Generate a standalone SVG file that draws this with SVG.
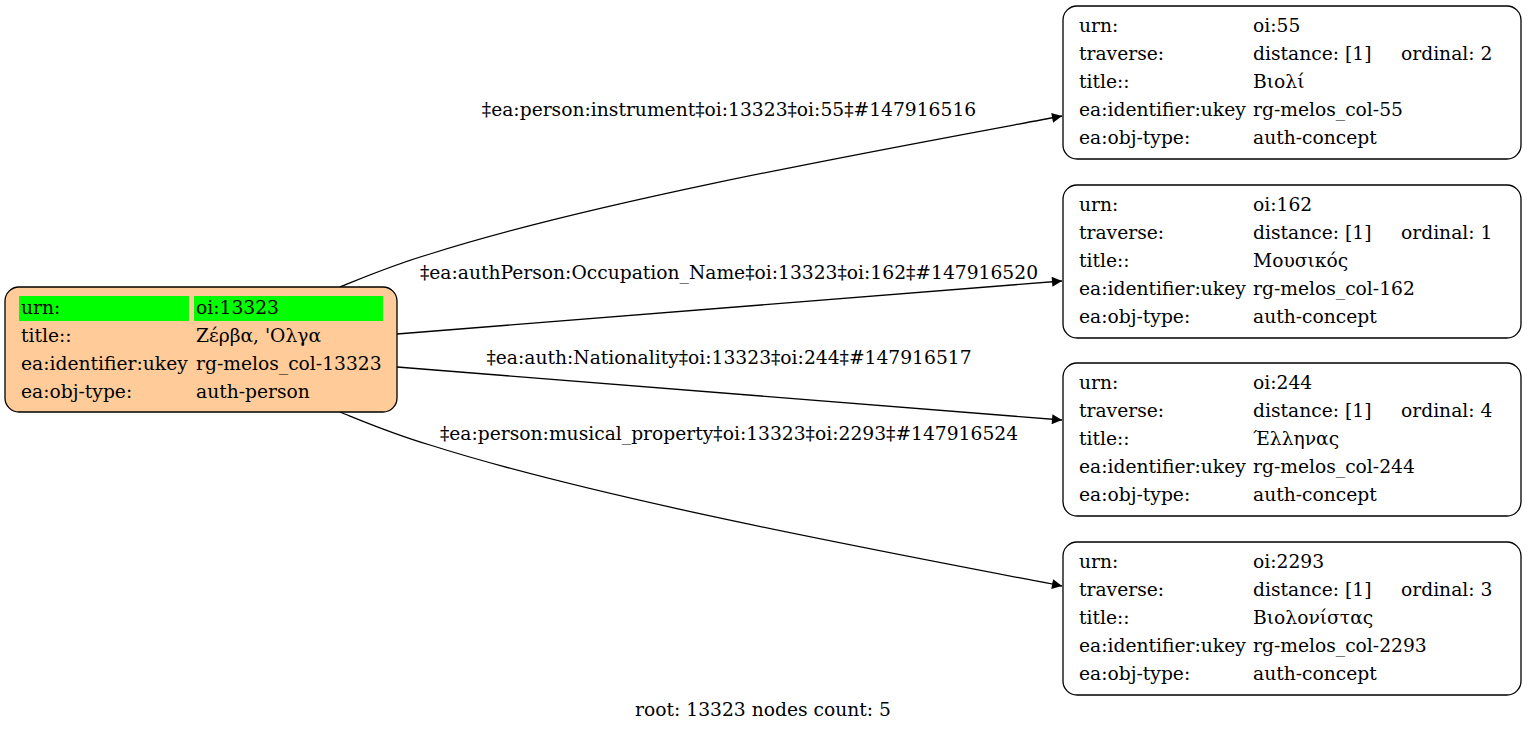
<svg xmlns="http://www.w3.org/2000/svg" width="1527" height="732" viewBox="0 0 1527 732">
<style>
text{font-family:"DejaVu Serif","Liberation Serif",serif;font-size:18.7px;fill:#000}
.c{text-anchor:middle}
.box{fill:#fff;stroke:#000;stroke-width:1.3}
.edge{fill:none;stroke:#000;stroke-width:1.3}
</style>
<defs>
<marker id="arr" viewBox="0 0 10 10" refX="10" refY="5" markerWidth="14" markerHeight="10" markerUnits="userSpaceOnUse" orient="auto">
<path d="M0,0 L10,5 L0,10 z" fill="#000"/>
</marker>
</defs>
<rect width="1527" height="732" fill="#fff"/>
<g id="edges">
<path class="edge" d="M340,287 C360,279 390,266 430,254 C600,200 880,150 1062,116" marker-end="url(#arr)"/>
<text class="c" x="729" y="116">‡ea:person:instrument‡oi:13323‡oi:55‡#147916516</text>
<path class="edge" d="M397,334 L1062,281" marker-end="url(#arr)"/>
<text class="c" x="729" y="279">‡ea:authPerson:Occupation_Name‡oi:13323‡oi:162‡#147916520</text>
<path class="edge" d="M397,367 L1062,420" marker-end="url(#arr)"/>
<text class="c" x="729" y="364">‡ea:auth:Nationality‡oi:13323‡oi:244‡#147916517</text>
<path class="edge" d="M340,412 C360,420 390,433 430,445 C600,499 880,551 1062,586" marker-end="url(#arr)"/>
<text class="c" x="729" y="440">‡ea:person:musical_property‡oi:13323‡oi:2293‡#147916524</text>
</g>
<g id="root">
<rect x="5" y="287" width="392" height="125" rx="14" fill="#ffcc99" stroke="#000" stroke-width="1.3"/>
<rect x="19" y="296" width="170" height="25" fill="#00ff00"/>
<rect x="194" y="296" width="189" height="25" fill="#00ff00"/>
<text x="21" y="314">urn:</text><text x="196" y="314">oi:13323</text>
<text x="21" y="342">title::</text><text x="196" y="342">Ζέρβα, 'Ολγα</text>
<text x="21" y="370">ea:identifier:ukey</text><text x="196" y="370">rg-melos_col-13323</text>
<text x="21" y="398">ea:obj-type:</text><text x="196" y="398">auth-person</text>
</g>
<g id="n55">
<rect class="box" x="1063" y="6" width="458" height="153" rx="14"/>
<text x="1079" y="32">urn:</text><text x="1253" y="32">oi:55</text>
<text x="1079" y="60">traverse:</text><text x="1253" y="60">distance: [1]</text><text x="1401" y="60">ordinal: 2</text>
<text x="1079" y="88">title::</text><text x="1253" y="88">Βιολί</text>
<text x="1079" y="116">ea:identifier:ukey</text><text x="1253" y="116">rg-melos_col-55</text>
<text x="1079" y="144">ea:obj-type:</text><text x="1253" y="144">auth-concept</text>
</g>
<g id="n162">
<rect class="box" x="1063" y="185" width="458" height="153" rx="14"/>
<text x="1079" y="211">urn:</text><text x="1253" y="211">oi:162</text>
<text x="1079" y="239">traverse:</text><text x="1253" y="239">distance: [1]</text><text x="1401" y="239">ordinal: 1</text>
<text x="1079" y="267">title::</text><text x="1253" y="267">Μουσικός</text>
<text x="1079" y="295">ea:identifier:ukey</text><text x="1253" y="295">rg-melos_col-162</text>
<text x="1079" y="323">ea:obj-type:</text><text x="1253" y="323">auth-concept</text>
</g>
<g id="n244">
<rect class="box" x="1063" y="363" width="458" height="153" rx="14"/>
<text x="1079" y="389">urn:</text><text x="1253" y="389">oi:244</text>
<text x="1079" y="417">traverse:</text><text x="1253" y="417">distance: [1]</text><text x="1401" y="417">ordinal: 4</text>
<text x="1079" y="445">title::</text><text x="1253" y="445">Έλληνας</text>
<text x="1079" y="473">ea:identifier:ukey</text><text x="1253" y="473">rg-melos_col-244</text>
<text x="1079" y="501">ea:obj-type:</text><text x="1253" y="501">auth-concept</text>
</g>
<g id="n2293">
<rect class="box" x="1063" y="542" width="458" height="153" rx="14"/>
<text x="1079" y="568">urn:</text><text x="1253" y="568">oi:2293</text>
<text x="1079" y="596">traverse:</text><text x="1253" y="596">distance: [1]</text><text x="1401" y="596">ordinal: 3</text>
<text x="1079" y="624">title::</text><text x="1253" y="624">Βιολονίστας</text>
<text x="1079" y="652">ea:identifier:ukey</text><text x="1253" y="652">rg-melos_col-2293</text>
<text x="1079" y="680">ea:obj-type:</text><text x="1253" y="680">auth-concept</text>
</g>
<text class="c" x="763" y="716">root: 13323 nodes count: 5</text>
</svg>
